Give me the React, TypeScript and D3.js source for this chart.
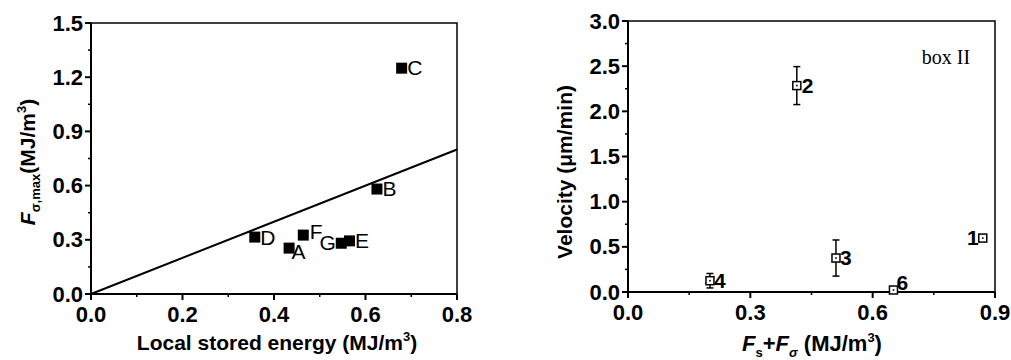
import React from "react";
import * as d3 from "d3";

// left panel: stored energy vs F_sigma,max
const leftNames = ["A", "B", "C", "D", "E", "F", "G"];
const leftX = [0.433, 0.625, 0.679, 0.358, 0.565, 0.464, 0.547];
const leftY = [0.254, 0.581, 1.25, 0.315, 0.294, 0.326, 0.281];
const leftXTicks = [0, 0.2, 0.4, 0.6, 0.8];
const leftYTicks = [0, 0.3, 0.6, 0.9, 1.2, 1.5];
const fitLine = [0, 0.8];

// right panel: F_s+F_sigma vs velocity
const rightNames = ["1", "2", "3", "4", "6"];
const rightX = [0.87, 0.414, 0.51, 0.201, 0.651];
const rightY = [0.597, 2.285, 0.376, 0.125, 0.022];
const rightErr = [0.035, 0.21, 0.2, 0.08, 0];
const rightXTicks = [0, 0.3, 0.6, 0.9];
const rightYTicks = [0, 0.5, 1.0, 1.5, 2.0, 2.5, 3.0];

// label placement relative to the marker edge (dx, dy) + anchor
const leftLabelPos: Record<string, [number, number, string]> = {
  A: [-3, 11, "start"],
  B: [0, 7, "start"],
  C: [0, 7, "start"],
  D: [0, 8, "start"],
  E: [0, 7, "start"],
  F: [1, 4, "start"],
  G: [0, 7, "end"],
};
const rightLabelPos: Record<string, [number, number, string]> = {
  "1": [0, 7, "end"],
  "2": [1, 7, "start"],
  "3": [0, 7, "start"],
  "4": [0, 7, "start"],
  "6": [-1, 0, "start"],
};

const font = "'Liberation Sans', Arial, sans-serif";

const Axes = ({ x, y, xTicks, yTicks, xMinor, yMinor, fmt }: any) => {
  const [x0, x1] = x.range();
  const [y0, y1] = y.range();
  return (
    <g>
      <rect x={x0} y={y1} width={x1 - x0} height={y0 - y1} fill="none" stroke="#000" strokeWidth={1.5} />
      <line x1={x0} x2={x1} y1={y0} y2={y0} stroke="#000" strokeWidth={2} />
      <line x1={x0} x2={x0} y1={y0} y2={y1} stroke="#000" strokeWidth={2} />
      {xMinor.map((t: number, i: number) => (
        <line key={"xm" + i} x1={x(t)} x2={x(t)} y1={y0} y2={y0 + 3} stroke="#000" strokeWidth={1.5} />
      ))}
      {yMinor.map((t: number, i: number) => (
        <line key={"ym" + i} x1={x0} x2={x0 - 3} y1={y(t)} y2={y(t)} stroke="#000" strokeWidth={1.5} />
      ))}
      {xTicks.map((t: number, i: number) => (
        <g key={"x" + i}>
          <line x1={x(t)} x2={x(t)} y1={y0} y2={y0 + 6} stroke="#000" strokeWidth={2} />
          <text x={x(t)} y={y0 + 28} textAnchor="middle" fontSize={22} fontWeight="bold" fontFamily={font}>
            {fmt(t)}
          </text>
        </g>
      ))}
      {yTicks.map((t: number, i: number) => (
        <g key={"y" + i}>
          <line x1={x0} x2={x0 - 6} y1={y(t)} y2={y(t)} stroke="#000" strokeWidth={2} />
          <text x={x0 - 8} y={y(t) + 7.5} textAnchor="end" fontSize={22} fontWeight="bold" fontFamily={font}>
            {fmt(t)}
          </text>
        </g>
      ))}
    </g>
  );
};

export default function App() {
  const xL = d3.scaleLinear().domain([0, 0.8]).range([91, 457]);
  const yL = d3.scaleLinear().domain([0, 1.5]).range([294, 23]);
  const xR = d3.scaleLinear().domain([0, 0.9]).range([628, 995]);
  const yR = d3.scaleLinear().domain([0, 3]).range([292, 21]);
  const fmt = d3.format(".1f");

  const mid = (a: number[]) => a.slice(0, -1).map((v, i) => (v + a[i + 1]) / 2);

  const line = d3
    .line<number>()
    .x((d) => xL(d))
    .y((d) => yL(d));

  return (
    <svg width={1011} height={360} style={{ position: "absolute", left: 0, top: 0, background: "#fff" }}>
      {/* left panel */}
      <Axes x={xL} y={yL} xTicks={leftXTicks} yTicks={leftYTicks} xMinor={mid(leftXTicks)} yMinor={mid(leftYTicks)} fmt={fmt} />
      <path d={line(fitLine) || ""} fill="none" stroke="#000" strokeWidth={2} />
      {leftNames.map((n, i) => {
        const cx = xL(leftX[i]);
        const cy = yL(leftY[i]);
        const [dx, dy, anchor] = leftLabelPos[n];
        return (
          <g key={n}>
            <rect x={cx - 5.5} y={cy - 5.5} width={11} height={11} fill="#000" />
            <text x={cx + (anchor === "end" ? -5.5 : 5.5) + dx} y={cy + dy} textAnchor={anchor} fontSize={21} fontFamily={font}>
              {n}
            </text>
          </g>
        );
      })}
      <text x={277} y={350} textAnchor="middle" fontSize={21} fontWeight="bold" fontFamily={font}>
        Local stored energy (MJ/m<tspan dy={-9} fontSize={13}>3</tspan>
        <tspan dy={9}>)</tspan>
      </text>
      <text transform={`translate(35,162) rotate(-90)`} textAnchor="middle" fontSize={21} fontWeight="bold" fontFamily={font}>
        <tspan fontStyle="italic">F</tspan>
        <tspan dy={5} fontSize={13}>σ,max</tspan>
        <tspan dy={-5}>(MJ/m</tspan>
        <tspan dy={-9} fontSize={13}>3</tspan>
        <tspan dy={9}>)</tspan>
      </text>

      {/* right panel */}
      <Axes x={xR} y={yR} xTicks={rightXTicks} yTicks={rightYTicks} xMinor={mid(rightXTicks)} yMinor={mid(rightYTicks)} fmt={fmt} />
      {rightNames.map((n, i) => {
        const cx = xR(rightX[i]);
        const cy = yR(rightY[i]);
        const e = rightErr[i];
        const [dx, dy, anchor] = rightLabelPos[n];
        return (
          <g key={n}>
            {e > 0 && (
              <g stroke="#000" strokeWidth={1.5}>
                <line x1={cx} x2={cx} y1={yR(rightY[i] + e)} y2={yR(rightY[i] - e)} />
                <line x1={cx - 3.5} x2={cx + 3.5} y1={yR(rightY[i] + e)} y2={yR(rightY[i] + e)} />
                <line x1={cx - 3.5} x2={cx + 3.5} y1={yR(rightY[i] - e)} y2={yR(rightY[i] - e)} />
              </g>
            )}
            <rect x={cx - 4} y={cy - 4} width={8} height={8} fill="#fff" stroke="#000" strokeWidth={1.5} />
            <rect x={cx - 0.8} y={cy - 0.8} width={1.6} height={1.6} fill="#000" />
            <text x={cx + (anchor === "end" ? -4 : 4) + dx} y={cy + dy} textAnchor={anchor} fontSize={21} fontWeight="bold" fontFamily={font}>
              {n}
            </text>
          </g>
        );
      })}
      <text x={946} y={64} textAnchor="middle" fontSize={20} fontFamily="'Liberation Serif', 'Times New Roman', serif">
        box II
      </text>
      <text x={812} y={351} textAnchor="middle" fontSize={22} fontWeight="bold" fontFamily={font}>
        <tspan fontStyle="italic">F</tspan>
        <tspan dy={6} fontSize={13}>s</tspan>
        <tspan dy={-6}>+</tspan>
        <tspan fontStyle="italic">F</tspan>
        <tspan dy={6} fontSize={13} fontStyle="italic">σ</tspan>
        <tspan dy={-6}> (MJ/m</tspan>
        <tspan dy={-9} fontSize={13}>3</tspan>
        <tspan dy={9}>)</tspan>
      </text>
      <text transform={`translate(572,172) rotate(-90)`} textAnchor="middle" fontSize={21} fontWeight="bold" fontFamily={font}>
        Velocity (μm/min)
      </text>
    </svg>
  );
}
